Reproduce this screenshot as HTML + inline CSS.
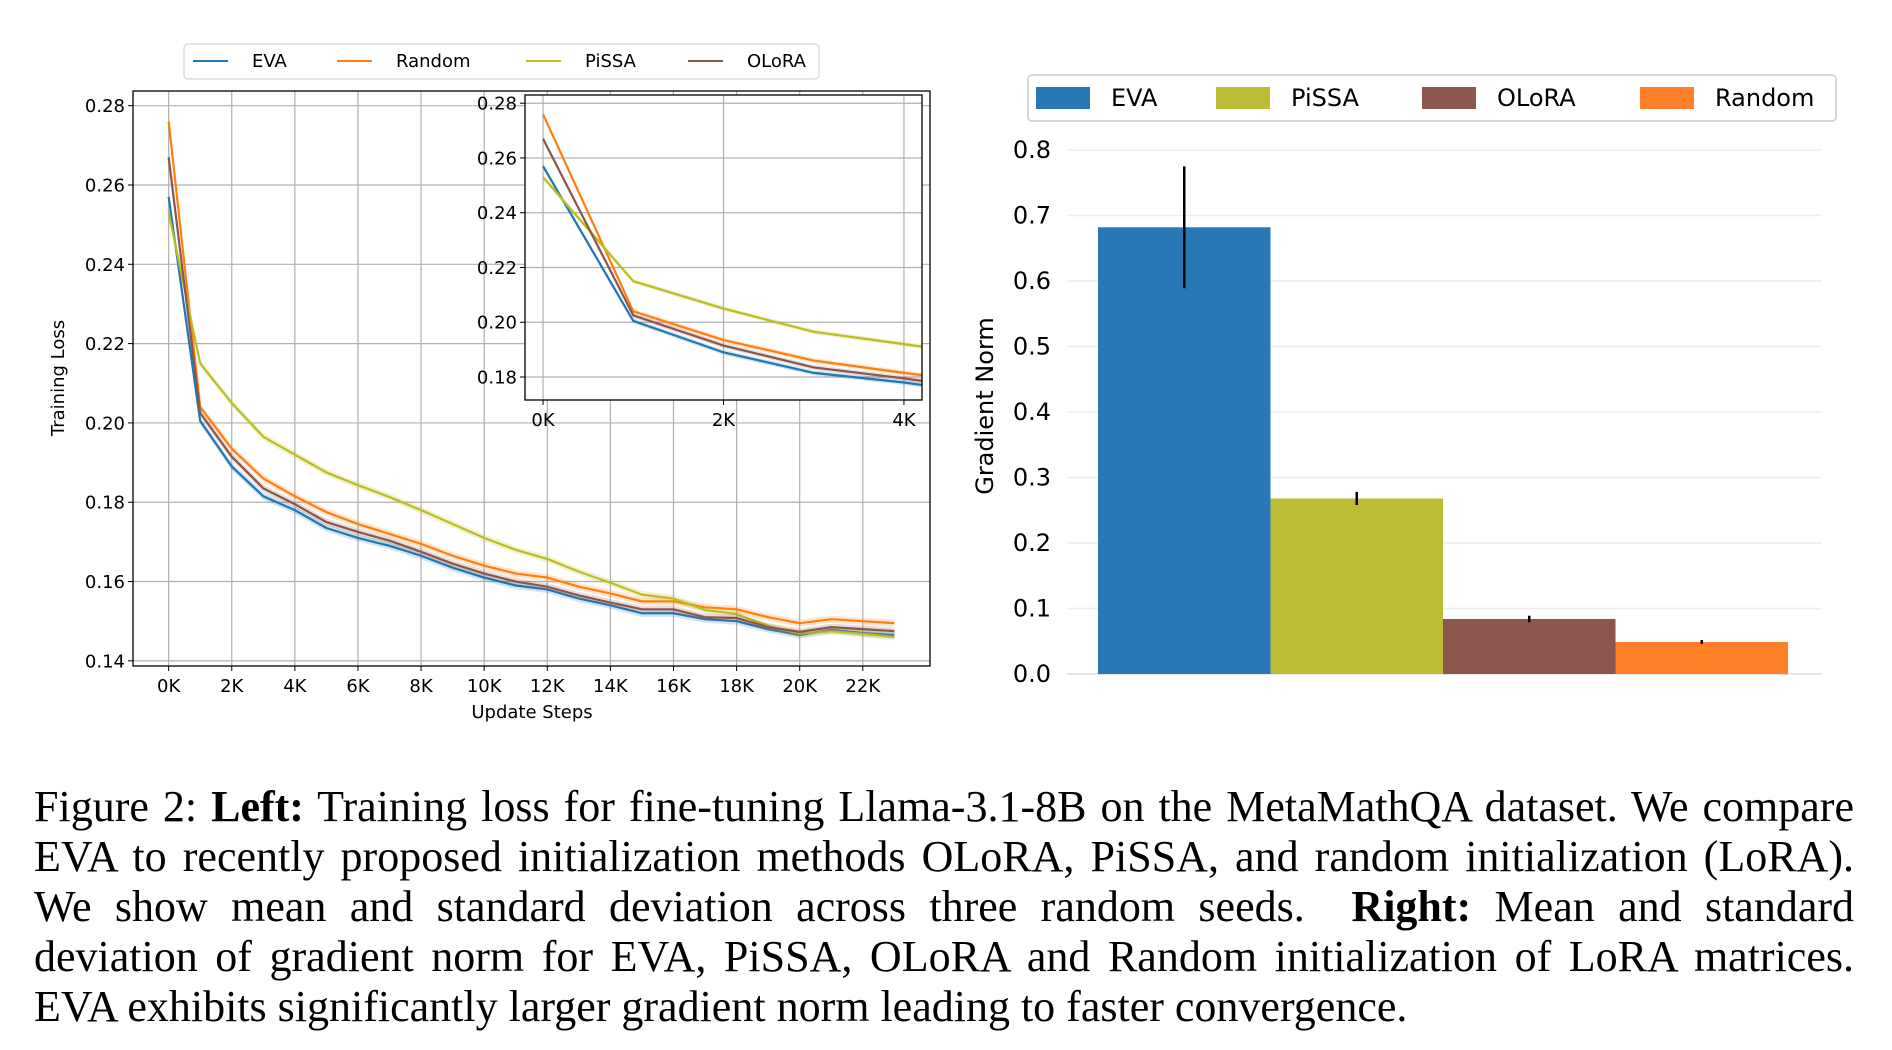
<!DOCTYPE html>
<html><head><meta charset="utf-8"><style>
body{margin:0;background:#fff;width:1892px;height:1050px;overflow:hidden;font-family:"DejaVu Sans",sans-serif}
#cap{position:absolute;left:34px;top:782px;width:1820px;font-family:"Liberation Serif",serif;font-size:44px;line-height:50px;color:#000}
#cap div{white-space:nowrap;text-align:justify;text-align-last:justify}
#cap div.last{text-align-last:left}
</style></head><body>
<svg id="fig" width="1892" height="780" style="position:absolute;left:0;top:0"></svg>
<div id="cap">
<div>Figure 2: <b>Left:</b> Training loss for fine-tuning Llama-3.1-8B on the MetaMathQA dataset. We compare</div>
<div>EVA to recently proposed initialization methods OLoRA, PiSSA, and random initialization (LoRA).</div>
<div>We show mean and standard deviation across three random seeds. &nbsp;<b>Right:</b> Mean and standard</div>
<div>deviation of gradient norm for EVA, PiSSA, OLoRA and Random initialization of LoRA matrices.</div>
<div class="last">EVA exhibits significantly larger gradient norm leading to faster convergence.</div>
</div>
<script>
const steps=[0,1,2,3,4,5,6,7,8,9,10,11,12,13,14,15,16,17,18,19,20,21,22,23];
const evaLoss=[0.257,0.2005,0.189,0.1815,0.178,0.1735,0.171,0.169,0.1665,0.1635,0.161,0.159,0.158,0.1557,0.154,0.152,0.152,0.1505,0.150,0.148,0.1465,0.1478,0.147,0.1465];
const randomLoss=[0.276,0.204,0.1935,0.186,0.1815,0.1775,0.1745,0.172,0.1695,0.1665,0.164,0.162,0.161,0.1587,0.157,0.155,0.155,0.1535,0.153,0.151,0.1495,0.1505,0.150,0.1495];
const pissaLoss=[0.253,0.215,0.205,0.1965,0.192,0.1875,0.1843,0.1813,0.178,0.1745,0.171,0.168,0.1657,0.1625,0.1597,0.1567,0.1557,0.1528,0.1518,0.1488,0.1468,0.1475,0.1468,0.146];
const oloraLoss=[0.267,0.2025,0.1915,0.1835,0.1795,0.175,0.1725,0.1703,0.1675,0.1645,0.162,0.16,0.1587,0.1565,0.1547,0.153,0.153,0.151,0.1508,0.1485,0.1473,0.1485,0.148,0.1475];
const lossTicks=[0.14,0.16,0.18,0.20,0.22,0.24,0.26,0.28];
const insetTicks=[0.18,0.20,0.22,0.24,0.26,0.28];
const xTicks=[0,2,4,6,8,10,12,14,16,18,20,22];
const barNames=["EVA","PiSSA","OLoRA","Random"];
const barValues=[0.682,0.268,0.084,0.049];
const barErrors=[0.093,0.010,0.005,0.003];
const barTicks=[0,0.1,0.2,0.3,0.4,0.5,0.6,0.7,0.8];

const NS="http://www.w3.org/2000/svg",svg=document.getElementById('fig');
function mk(t,a,p){const e=document.createElementNS(NS,t);for(const k in a)e.setAttribute(k,a[k]);(p||svg).appendChild(e);return e;}
function txt(s,a,p){const e=mk('text',a,p);e.textContent=s;return e;}
const series=[["EVA",evaLoss,"#1f77b4"],["Random",randomLoss,"#ff7f0e"],["PiSSA",pissaLoss,"#bcbd22"],["OLoRA",oloraLoss,"#8c564b"]];

function lineChart(g,box,xd,yd,yt,xt,fs,clipId){
  const [L,T,R,B]=box;
  const sx=v=>L+(v-xd[0])/(xd[1]-xd[0])*(R-L), sy=v=>B-(v-yd[0])/(yd[1]-yd[0])*(B-T);
  mk('rect',{x:L,y:T,width:R-L,height:B-T,fill:'#fff'},g);
  const cp=mk('clipPath',{id:clipId},g);mk('rect',{x:L,y:T,width:R-L,height:B-T},cp);
  yt.forEach(v=>{const y=sy(v);
    const gl=mk('line',{x1:L,x2:R,y1:y,y2:y,stroke:'#b0b0b0','stroke-width':1.2},g);
    
    mk('line',{x1:L-5,x2:L,y1:y,y2:y,stroke:'#000'},g);
    const t=txt(v.toFixed(2),{x:L-8,y:y+fs*0.36,'font-size':fs,'text-anchor':'end'},g);
    });
  xt.forEach(v=>{const x=sx(v);
    const gl=mk('line',{x1:x,x2:x,y1:T,y2:B,stroke:'#b0b0b0','stroke-width':1.2},g);
    
    mk('line',{x1:x,x2:x,y1:B,y2:B+5,stroke:'#000'},g);
    const t=txt(v+'K',{x:x,y:B+8+fs,'font-size':fs,'text-anchor':'middle'},g);
    });
  const pg=mk('g',{'clip-path':'url(#'+clipId+')'},g);
  series.forEach(([n,d,c])=>{
    const up=steps.map((s,i)=>sx(s)+','+sy(d[i]+0.0009)), dn=steps.map((s,i)=>sx(s)+','+sy(d[i]-0.0009)).reverse();
    const band=mk('polygon',{points:up.concat(dn).join(' '),fill:c,'fill-opacity':0.2},pg);
    
    const pl=mk('polyline',{points:steps.map((s,i)=>sx(s)+','+sy(d[i])).join(' '),fill:'none',stroke:c,'stroke-width':2.2},pg);
    });
  mk('rect',{x:L,y:T,width:R-L,height:B-T,fill:'none',stroke:'#000','stroke-width':1.3},g);
}
const gl=mk('g',{});
lineChart(gl,[133,91,930,666],[-1.13,24.13],[0.1387,0.2837],lossTicks,xTicks,18,'c1');
const yl=txt('Training Loss',{x:0,y:0,'font-size':18,'text-anchor':'middle',transform:'translate(64,378) rotate(-90)'},gl);

const xl=txt('Update Steps',{x:532,y:718,'font-size':18,'text-anchor':'middle'},gl);

const gi=mk('g',{});
lineChart(gi,[525,95,922,400],[-0.2,4.2],[0.1716,0.283],insetTicks,[0,2,4],18,'c2');
// left legend
const lg=mk('g',{});
mk('rect',{x:184,y:44,width:635,height:35,rx:4,fill:'#fff',stroke:'#ccc'},lg);
[[190,"EVA","#1f77b4"],[334,"Random","#ff7f0e"],[523,"PiSSA","#bcbd22"],[685,"OLoRA","#8c564b"]].forEach(([x,n,c])=>{
  const e=mk('g',{},lg);
  mk('line',{x1:x+3,x2:x+38,y1:61,y2:61,stroke:c,'stroke-width':2},e);
  txt(n,{x:x+62,y:67,'font-size':18},e);});
// bar chart
const bg=mk('g',{});
const bx0=1098,bw=172.5,sy2=v=>674-v/0.1*65.5;
const bcol=["#2878b5","#bcbd35","#8c574c","#fe812a"];
barTicks.forEach(v=>{const y=sy2(v);
  const g=mk('line',{x1:1067,x2:1822,y1:y,y2:y,stroke:v===0?'#ddd':'#eee','stroke-width':1.5},bg);
  
  const t=txt(v.toFixed(1),{x:1051,y:y+8,'font-size':24,'text-anchor':'end'},bg);
  });
barValues.forEach((v,i)=>{const x=bx0+i*bw;
  const r=mk('rect',{x:x,y:sy2(v),width:bw,height:sy2(0)-sy2(v),fill:bcol[i]},bg);
  
  const e=mk('line',{x1:x+bw/2,x2:x+bw/2,y1:sy2(v-barErrors[i]),y2:sy2(v+barErrors[i]),stroke:'#000','stroke-width':2.5},bg);
  });
const yl2=txt('Gradient Norm',{x:0,y:0,'font-size':24,'text-anchor':'middle',transform:'translate(993,406) rotate(-90)'},bg);

const lg2=mk('g',{});
mk('rect',{x:1028,y:75,width:808,height:46,rx:4,fill:'#fff',stroke:'#ccc','stroke-width':1.5},lg2);
[[1036,0],[1216,1],[1422,2],[1640,3]].forEach(([x,i])=>{
  const e=mk('g',{},lg2);
  mk('rect',{x:x,y:87,width:54,height:22,fill:bcol[i]},e);
  txt(barNames[i],{x:x+75,y:106,'font-size':24},e);});
</script>
</body></html>
